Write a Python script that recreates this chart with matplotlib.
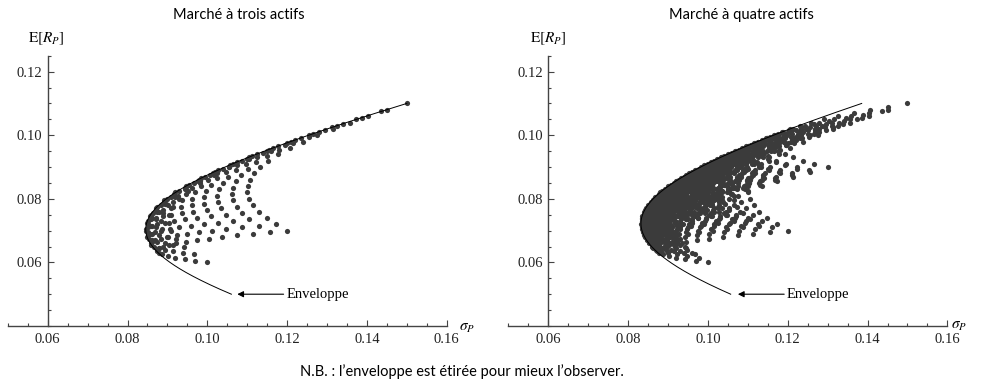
import itertools
import numpy as np
import matplotlib
matplotlib.use('Agg')
import matplotlib.pyplot as plt
from matplotlib.ticker import FixedLocator, FixedFormatter

plt.rcParams['font.family'] = ['Liberation Serif', 'DejaVu Serif']
plt.rcParams['mathtext.fontset'] = 'stix'

# ---- data (asset parameters read/estimated from the chart) ----
asset_means = [0.11, 0.06, 0.07, 0.09]      # expected returns of assets A, B, C, D
asset_vols = [0.15, 0.10, 0.12, 0.13]       # volatilities of assets A, B, C, D
corr_4 = [[1.00, 0.20, 0.40, 0.40],
          [0.20, 1.00, 0.30, 0.40],
          [0.40, 0.30, 1.00, 0.30],
          [0.40, 0.40, 0.30, 1.00]]
weight_step = 0.05                           # grid of portfolio weights (no short sales)
envelope_mu_range = [0.05, 0.11]             # stretched envelope range
panel_titles = ["Marché à trois actifs", "Marché à quatre actifs"]
panel_n_assets = [3, 4]
x_major = [0.06, 0.08, 0.10, 0.12, 0.14, 0.16]
x_major_labels = ["0.06", "0.08", "0.10", "0.12", "0.14", "0.16"]
y_major = [0.06, 0.08, 0.10, 0.12]
y_major_labels = ["0.06", "0.08", "0.10", "0.12"]
note = "N.B. : l\u2019enveloppe est étirée pour mieux l\u2019observer."
annot_text = "Enveloppe"


def portfolios(n):
    mu = np.array(asset_means[:n])
    sd = np.array(asset_vols[:n])
    cov = np.array(corr_4)[:n, :n] * np.outer(sd, sd)
    k = int(round(1 / weight_step))
    W = []
    for c in itertools.product(range(k + 1), repeat=n - 1):
        if sum(c) <= k:
            W.append(list(c) + [k - sum(c)])
    W = np.array(W, dtype=float) / k
    m = W @ mu
    s = np.sqrt(np.einsum('ij,jk,ik->i', W, cov, W))
    return s, m


def envelope(n):
    mu = np.array(asset_means[:n])
    sd = np.array(asset_vols[:n])
    cov = np.array(corr_4)[:n, :n] * np.outer(sd, sd)
    Si = np.linalg.inv(cov)
    one = np.ones(n)
    A = one @ Si @ one
    B = one @ Si @ mu
    C = mu @ Si @ mu
    D = A * C - B * B
    m = np.linspace(envelope_mu_range[0], envelope_mu_range[1], 300)
    s = np.sqrt((A * m * m - 2 * B * m + C) / D)
    return s, m


W_PX, H_PX = 981, 381
fig = plt.figure(figsize=(W_PX / 100, H_PX / 100), dpi=100)

axes_left_px = [7.8, 508.4]
ax_w_px = 439.0
ax_bottom_px = 326.0
ax_top_px = 55.75
title_x_px = [239, 741]
ylabel_x_px = [46.5, 548.0]
xlabel_xy_px = [(467.5, 328.0), (959.0, 326.0)]

serif = 'Liberation Serif'
sans = ['Lato', 'DejaVu Sans']
axis_col = '#444444'
dot_col = '#3b3b3b'

for i in range(2):
    ax = fig.add_axes([axes_left_px[i] / W_PX, 1 - ax_bottom_px / H_PX,
                       ax_w_px / W_PX, (ax_bottom_px - ax_top_px) / H_PX])
    ax.set_xlim(0.05, 0.16)
    ax.set_ylim(0.04, 0.125)
    for sp in ['top', 'right']:
        ax.spines[sp].set_visible(False)
    ax.spines['left'].set_position(('data', 0.06))
    for sp in ['left', 'bottom']:
        ax.spines[sp].set_color(axis_col)
        ax.spines[sp].set_linewidth(1.0)

    ax.xaxis.set_major_locator(FixedLocator(x_major))
    ax.xaxis.set_major_formatter(FixedFormatter(x_major_labels))
    ax.yaxis.set_major_locator(FixedLocator(y_major))
    ax.yaxis.set_major_formatter(FixedFormatter(y_major_labels))
    ax.xaxis.set_minor_locator(FixedLocator(np.arange(0.05, 0.1601, 0.005)))
    ax.yaxis.set_minor_locator(FixedLocator(np.arange(0.04, 0.1251, 0.005)))
    ax.tick_params(which='both', direction='in', color=axis_col, width=0.8)
    ax.tick_params(which='major', length=4.5, labelsize=10.5, labelcolor='#222222')
    ax.tick_params(which='minor', length=2.5)
    ax.tick_params(axis='x', which='major', pad=5)
    ax.tick_params(axis='y', which='major', pad=4)

    s, m = portfolios(panel_n_assets[i])
    ax.scatter(s, m, s=14, color=dot_col, linewidths=0, zorder=2)
    es, em = envelope(panel_n_assets[i])
    ax.plot(es, em, color='black', lw=0.7, zorder=3)

    ax.annotate(annot_text, xy=(0.1075, 0.05), xytext=(0.1198, 0.05),
                fontfamily=serif, fontsize=10.5, ha='left', va='center',
                arrowprops=dict(arrowstyle='-|>', color='black', lw=0.8,
                                shrinkA=0, shrinkB=0, mutation_scale=9))

    fig.text(title_x_px[i] / W_PX, 1 - 15 / H_PX, panel_titles[i],
             fontfamily=sans, fontsize=10.5, ha='center', va='center')
    fig.text(ylabel_x_px[i] / W_PX, 1 - 39 / H_PX, r'$\mathrm{E}[R_P]$',
             fontsize=11, ha='center', va='center')
    fig.text(xlabel_xy_px[i][0] / W_PX, 1 - xlabel_xy_px[i][1] / H_PX, r'$\sigma_P$',
             fontsize=11, ha='center', va='center')

fig.text(300 / W_PX, 1 - 372 / H_PX, note, fontfamily=sans, fontsize=10.5,
         ha='left', va='center')

fig.savefig('out.png', dpi=100)
